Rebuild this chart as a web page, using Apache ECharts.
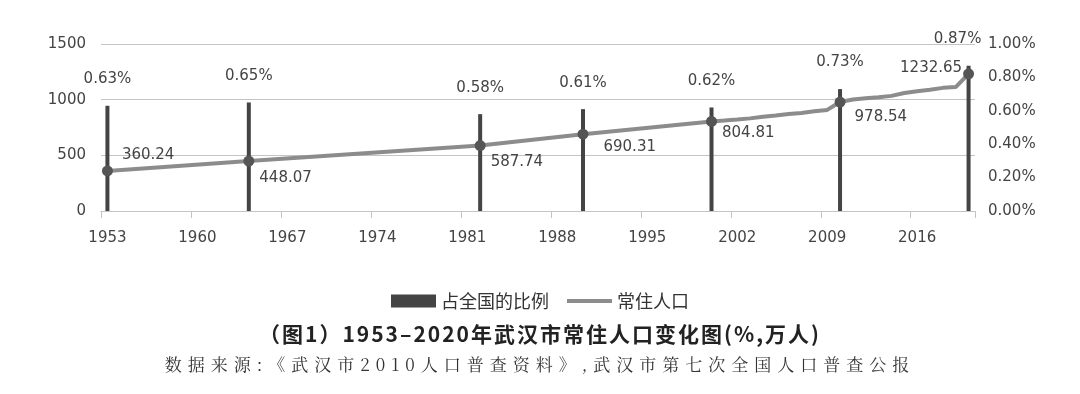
<!DOCTYPE html>
<html><head><meta charset="utf-8">
<script src="https://cdn.jsdelivr.net/npm/echarts@6/dist/echarts.min.js"></script>
<style>
html,body{margin:0;padding:0;background:#fff;}
#wrap{position:relative;width:1080px;height:394px;}
#chart{position:absolute;left:0;top:0;width:1080px;height:394px;}
.cap{position:absolute;left:0;width:1080px;text-align:center;white-space:nowrap;}
#t1{top:318px;font:bold 21px "Noto Sans CJK SC",sans-serif;color:#222;letter-spacing:2px;}
#t2{top:351px;font:17px "Noto Serif CJK SC","Noto Sans CJK SC",serif;color:#333;letter-spacing:6px;}
</style></head>
<body>
<div id="wrap">
<div id="chart"></div>
<div class="cap" id="t1">（图1）1953–2020年武汉市常住人口变化图(%,万人)</div>
<div class="cap" id="t2">数据来源:《武汉市2010人口普查资料》,武汉市第七次全国人口普查公报</div>
</div>
<script>
const firstYear = 1953, lastYear = 2020;
const censusYears = [1953, 1964, 1982, 1990, 2000, 2010, 2020];
const sharePct = [0.63, 0.65, 0.58, 0.61, 0.62, 0.73, 0.87];
const censusPop = [360.24, 448.07, 587.74, 690.31, 804.81, 978.54, 1232.65];
const annualYears = [2001,2002,2003,2004,2005,2006,2007,2008,2009,2011,2012,2013,2014,2015,2016,2017,2018,2019];
const annualPop = [813,822,832,846,858,871,881,895,908,1002,1012,1022,1034,1060,1076,1089,1106,1113];
const leftTicks = [0, 500, 1000, 1500];
const rightTicks = [0, 0.2, 0.4, 0.6, 0.8, 1.0];

const years = [];
for (let y = firstYear; y <= lastYear; y++) years.push(String(y));

const axisFont = 'DejaVu Sans';
const cjk = 'Noto Sans CJK SC';

const popLabelCfg = [
  {position:'right', offset:[4,-16]},
  {position:'right', offset:[0,17]},
  {position:'right', offset:[0,17]},
  {position:'right', offset:[10,13]},
  {position:'right', offset:[0,12]},
  {position:'right', offset:[4,15]},
  {position:'left', offset:[4,-6]}
];

const barData = years.map(() => null);
censusYears.forEach((y, i) => {
  const item = {value: sharePct[i]};
  if (i === censusYears.length - 1) item.label = {offset:[-11, 0]};
  barData[y - firstYear] = item;
});

const lineData = years.map(() => null);
annualYears.forEach((y, i) => {
  lineData[y - firstYear] = {value: annualPop[i], symbol: 'none', label: {show: false}};
});
censusYears.forEach((y, i) => {
  lineData[y - firstYear] = {value: censusPop[i], symbol: 'circle', symbolSize: 11,
    label: Object.assign({show: true}, popLabelCfg[i])};
});

const chart = echarts.init(document.getElementById('chart'));
chart.setOption({
  animation: false,
  backgroundColor: '#fff',
  grid: {left: 101, right: 105, top: 44, height: 167, containLabel: false},
  legend: {
    top: 287, left: 'center', itemWidth: 45, itemHeight: 13, itemGap: 18,
    textStyle: {fontFamily: cjk, fontSize: 18, color: '#333'},
    data: [
      {name: '占全国的比例', icon: 'rect', itemStyle: {color: '#444'}},
      {name: '常住人口', icon: 'path://M0,0h45v4H0z', itemStyle: {color: '#8c8c8c'}}
    ]
  },
  xAxis: {
    type: 'category', data: years, boundaryGap: true,
    axisLine: {lineStyle: {color: '#c4c4c4', width: 1}},
    axisTick: {show: true, interval: 6, length: 7, lineStyle: {color: '#c4c4c4'}},
    axisLabel: {interval: 6, margin: 20, fontFamily: axisFont, fontSize: 15, color: '#444'}
  },
  yAxis: [
    {type: 'value', min: leftTicks[0], max: leftTicks[leftTicks.length-1], interval: 500,
     axisLine: {show: false}, axisTick: {show: false},
     splitLine: {lineStyle: {color: '#c4c4c4', width: 1}},
     axisLabel: {margin: 15, fontFamily: axisFont, fontSize: 15, color: '#444',
       formatter: v => String(v)}},
    {type: 'value', min: rightTicks[0], max: rightTicks[rightTicks.length-1], interval: 0.2,
     axisLine: {show: false}, axisTick: {show: false}, splitLine: {show: false},
     axisLabel: {margin: 13, fontFamily: axisFont, fontSize: 15, color: '#444',
       formatter: v => v.toFixed(2) + '%'}}
  ],
  series: [
    {name: '占全国的比例', type: 'bar', yAxisIndex: 1, data: barData, barWidth: 4,
     barGap: '-100%', itemStyle: {color: '#444'}, z: 2,
     label: {show: true, position: 'top', distance: 19, fontFamily: axisFont, fontSize: 15,
       color: '#444', formatter: p => p.value.toFixed(2) + '%'}},
    {name: '常住人口', type: 'line', yAxisIndex: 0, data: lineData, connectNulls: true,
     showAllSymbol: true, z: 3,
     lineStyle: {color: '#8c8c8c', width: 4},
     itemStyle: {color: '#555'},
     label: {fontFamily: axisFont, fontSize: 15, color: '#444'}}
  ]
});
</script>
</body></html>
